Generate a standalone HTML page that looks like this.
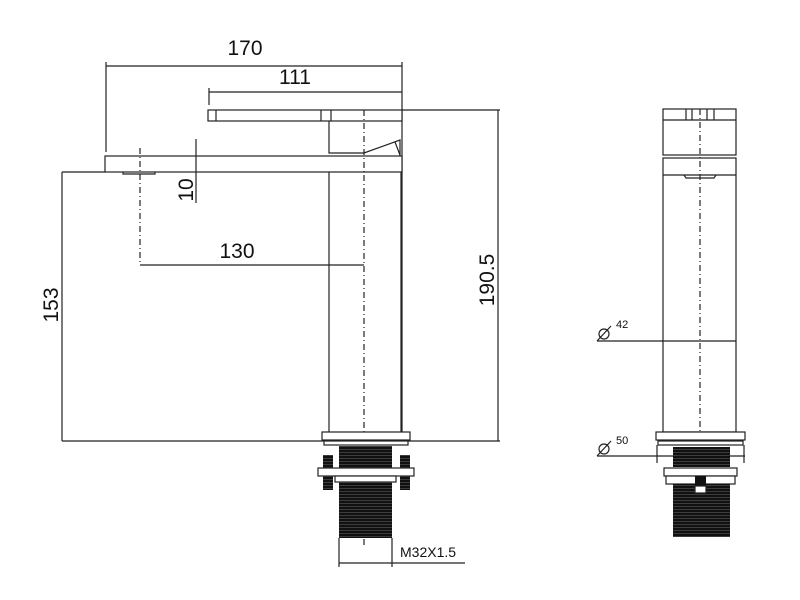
<!DOCTYPE html>
<html><head><style>body{margin:0;background:#fff}svg{display:block}</style></head><body>
<svg width="800" height="600" viewBox="0 0 800 600" xmlns="http://www.w3.org/2000/svg" font-family="Liberation Sans, sans-serif">
<defs>
<pattern id="thr" width="4" height="3" patternUnits="userSpaceOnUse"><rect width="4" height="3" fill="#111"/><rect y="2.3" width="4" height="0.5" fill="#666"/></pattern>
</defs>
<g stroke="#222" stroke-width="1.2" fill="none">
<line x1="106" y1="66" x2="402" y2="66"/>
<line x1="106" y1="62" x2="106" y2="152"/>
<line x1="402" y1="62" x2="402" y2="432"/>
<line x1="209" y1="92" x2="402" y2="92"/>
<line x1="209" y1="88" x2="209" y2="105"/>
<rect x="208" y="110" width="194" height="11" fill="#fff"/>
<line x1="216" y1="110" x2="216" y2="121"/>
<line x1="321" y1="110" x2="321" y2="121"/>
<line x1="331" y1="110" x2="331" y2="121"/>
<line x1="402" y1="110" x2="500" y2="110"/>
<polyline points="329,121 329,153 364,153 400,140 400,156"/>
<line x1="395" y1="142" x2="400" y2="155"/>
<rect x="105" y="156" width="297" height="16" fill="#fff"/>
<line x1="62" y1="172" x2="105" y2="172"/>
<polyline points="123,172 123,174 155,174 155,172"/>
<line x1="196" y1="139" x2="196" y2="203"/>
<line x1="140" y1="148" x2="140" y2="265" stroke-dasharray="6,3,1,3"/>
<line x1="140" y1="265" x2="364" y2="265"/>
<line x1="329" y1="172" x2="329" y2="432"/>
<line x1="401" y1="172" x2="401" y2="432"/>
<line x1="364" y1="110" x2="364" y2="545" stroke-dasharray="6,3,1,3"/>
<line x1="62" y1="172" x2="62" y2="441"/>
<line x1="498" y1="110" x2="498" y2="441"/>
<line x1="62" y1="441" x2="500" y2="441"/>
<rect x="322" y="432" width="88" height="8" fill="#fff"/>
<rect x="324" y="441" width="84" height="4" fill="#fff"/>
<rect x="339" y="446" width="53" height="22" fill="url(#thr)" stroke="none"/>
<rect x="323" y="455" width="10" height="35" fill="url(#thr)" stroke="none"/>
<rect x="400" y="455" width="10" height="35" fill="url(#thr)" stroke="none"/>
<rect x="318" y="468" width="96" height="8" fill="#fff"/>
<rect x="335" y="476" width="61" height="6" fill="#fff"/>
<rect x="339" y="482" width="53" height="56" fill="url(#thr)" stroke="none"/>
<line x1="339" y1="538" x2="339" y2="567"/>
<line x1="392" y1="538" x2="392" y2="567"/>
<line x1="339" y1="563" x2="465" y2="563"/>
<rect x="663" y="109" width="73" height="46" fill="#fff"/>
<line x1="663" y1="120" x2="736" y2="120"/>
<line x1="686" y1="109" x2="686" y2="120"/><line x1="692" y1="109" x2="692" y2="120"/>
<line x1="707" y1="109" x2="707" y2="120"/><line x1="714" y1="109" x2="714" y2="120"/>
<rect x="663" y="158" width="73" height="274" fill="#fff"/>
<line x1="663" y1="175" x2="736" y2="175"/>
<polyline points="684,175 686,178 714,178 716,175"/>
<line x1="700" y1="109" x2="700" y2="432" stroke-dasharray="6,3,1,3"/>
<line x1="597" y1="341" x2="736" y2="341"/>
<rect x="656" y="432" width="89" height="8" fill="#fff"/>
<rect x="658" y="441" width="85" height="4" fill="#fff"/>
<line x1="597" y1="456" x2="745" y2="456"/>
<line x1="657" y1="445" x2="657" y2="463"/><line x1="744" y1="445" x2="744" y2="463"/>
<rect x="673" y="447" width="57" height="20" fill="url(#thr)" stroke="none"/>
<rect x="664" y="468" width="73" height="8" fill="#fff"/>
<rect x="666" y="476" width="69" height="8" fill="#fff"/>
<rect x="673" y="484" width="57" height="53" fill="url(#thr)" stroke="none"/>
<rect x="695" y="476" width="11" height="10" fill="#111" stroke="none"/>
<rect x="695" y="486" width="11" height="7" fill="#fff"/>
<circle cx="604" cy="334" r="5"/><line x1="597" y1="341" x2="611" y2="326"/>
<circle cx="604" cy="449" r="5"/><line x1="597" y1="456" x2="611" y2="441"/>
</g>
<g fill="#111" font-size="21">
<text x="245" y="55" text-anchor="middle">170</text>
<text x="295" y="84" text-anchor="middle">111</text>
<text x="237" y="258" text-anchor="middle">130</text>
<text transform="translate(193,190) rotate(-90)" text-anchor="middle">10</text>
<text transform="translate(58,305) rotate(-90)" text-anchor="middle">153</text>
<text transform="translate(494,280) rotate(-90)" text-anchor="middle">190.5</text>
<text x="400" y="557" font-size="14">M32X1.5</text>
<text x="616" y="328" font-size="11">42</text>
<text x="616" y="444" font-size="11">50</text>
</g>
</svg>
</body></html>
